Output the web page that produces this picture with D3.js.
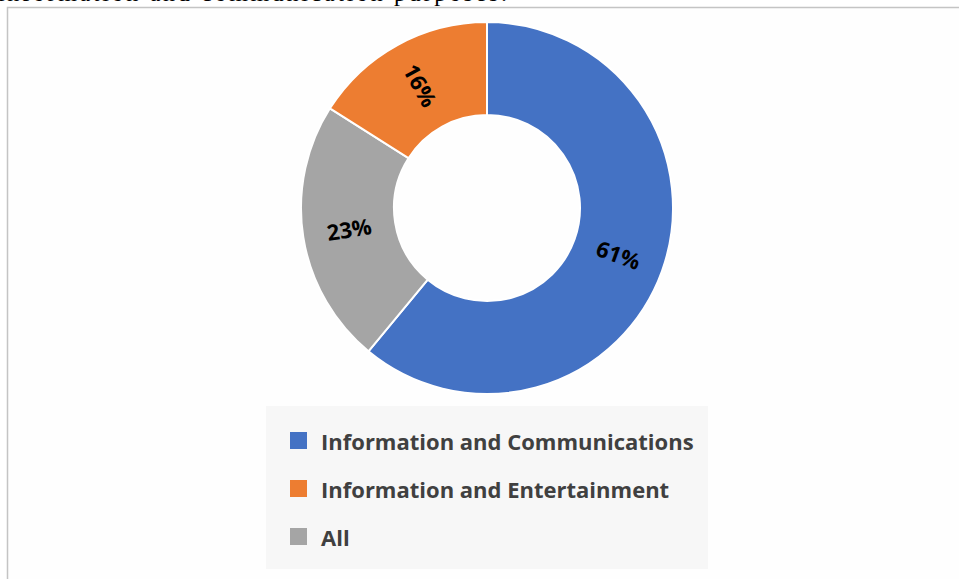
<!DOCTYPE html>
<html>
<head>
<meta charset="utf-8">
<script src="https://cdn.jsdelivr.net/npm/d3@7"></script>
<style>
  html, body { margin: 0; padding: 0; background: #fff; overflow: hidden; }
</style>
</head>
<body>
<div class="app"></div>
<script>
// Chart data (pie order, clockwise from 12 o'clock)
var sliceNames = ["Information and Communications", "All", "Information and Entertainment"];
var sliceValues = [61, 23, 16];
var sliceColors = ["#4472c4", "#a5a5a5", "#ed7d31"];

// Legend order
var legendNames = ["Information and Communications", "Information and Entertainment", "All"];

var W = 959, H = 579;
var cx = 487, cy = 208, outerR = 186, innerR = 93;

var svg = d3.select(".app").append("svg")
    .attr("width", W)
    .attr("height", H);

// leftover line of text from the page above the figure
svg.append("text")
    .attr("x", -2)
    .attr("y", 1)
    .attr("textLength", 509)
    .style("font-family", "'Liberation Serif', serif")
    .style("font-size", "24px")
    .style("fill", "#000")
    .text("information and communication purposes.");

// figure frame
svg.append("rect")
    .attr("x", 7.5)
    .attr("y", 7.5)
    .attr("width", W)
    .attr("height", H)
    .attr("fill", "#fefefe")
    .attr("stroke", "#c4c4c4")
    .attr("stroke-width", 1.5);

var color = d3.scaleOrdinal().domain(sliceNames).range(sliceColors);

var pie = d3.pie().sort(null).value(function(d, i){ return sliceValues[i]; });
var arcs = pie(sliceNames);

var arc = d3.arc().innerRadius(innerR).outerRadius(outerR);

var g = svg.append("g")
    .attr("transform", "translate(" + cx + "," + cy + ")");

g.selectAll("path")
    .data(arcs)
    .enter()
    .append("path")
    .attr("d", arc)
    .attr("fill", function(d){ return color(d.data); })
    .attr("stroke", "#fff")
    .attr("stroke-width", 2);

g.selectAll("text")
    .data(arcs)
    .enter()
    .append("text")
    .attr("transform", function(d){
        var c = arc.centroid(d);
        var mid = (d.startAngle + d.endAngle) / 2 * 180 / Math.PI;
        var rot = mid < 180 ? mid - 90 : mid - 270;
        return "translate(" + c[0] + "," + c[1] + ") rotate(" + rot + ")";
    })
    .attr("text-anchor", "middle")
    .attr("dy", "0.35em")
    .style("font-family", "'Open Sans', sans-serif")
    .style("font-weight", "bold")
    .style("font-size", "22px")
    .style("fill", "#000")
    .text(function(d){ return d.value + "%"; });

// legend
var legend = svg.append("g").attr("transform", "translate(266,406)");

legend.append("rect")
    .attr("width", 442)
    .attr("height", 163)
    .attr("fill", "#f7f7f7");

var rows = legend.selectAll(".row")
    .data(legendNames)
    .enter()
    .append("g")
    .attr("class", "row")
    .attr("transform", function(d, i){ return "translate(24," + (26 + i * 48) + ")"; });

rows.append("rect")
    .attr("width", 17)
    .attr("height", 17)
    .attr("fill", function(d){ return color(d); });

rows.append("text")
    .attr("x", 31)
    .attr("y", 18)
    .style("font-family", "'Open Sans', sans-serif")
    .style("font-weight", "bold")
    .style("font-size", "22px")
    .style("fill", "#404040")
    .text(function(d){ return d; });
</script>
</body>
</html>
